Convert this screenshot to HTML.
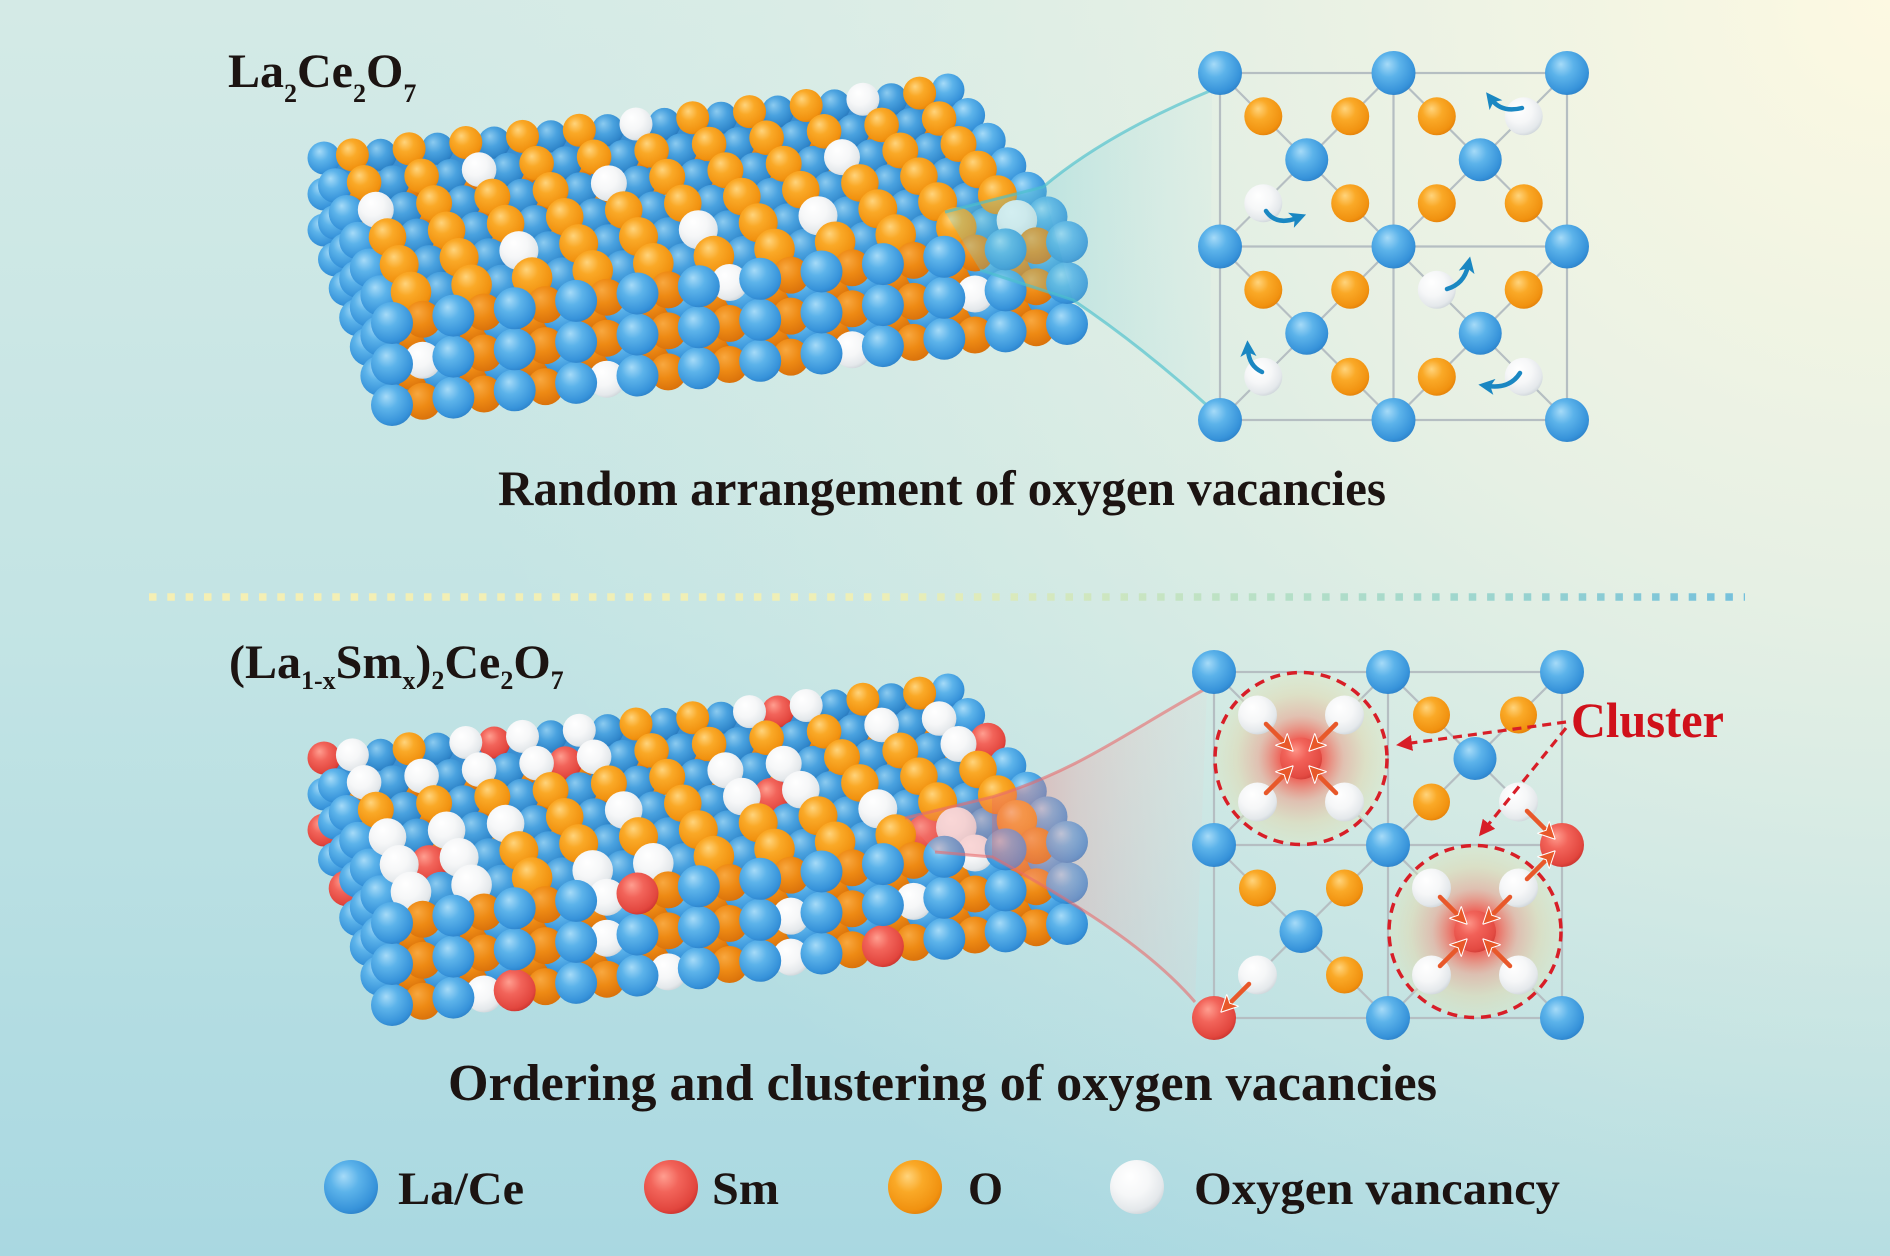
<!DOCTYPE html>
<html><head><meta charset="utf-8">
<style>
html,body{margin:0;padding:0;width:1890px;height:1256px;overflow:hidden;background:#c6e5e4;}
svg{display:block;}
text{font-family:"Liberation Serif","Times New Roman",serif;font-weight:bold;}
</style></head>
<body>
<svg id="root" width="1890" height="1256" viewBox="0 0 1890 1256" xmlns="http://www.w3.org/2000/svg">
<defs>
 <linearGradient id="bg" x1="0" y1="0" x2="0" y2="1256" gradientUnits="userSpaceOnUse">
  <stop offset="0" stop-color="#d4eae6"/>
  <stop offset="0.5" stop-color="#c3e4e4"/>
  <stop offset="1" stop-color="#a9d8e1"/>
 </linearGradient>
 <radialGradient id="bg2" cx="1890" cy="0" r="1500" gradientUnits="userSpaceOnUse">
  <stop offset="0" stop-color="#fdf9e2" stop-opacity="1"/>
  <stop offset="0.4" stop-color="#ecf2e4" stop-opacity="0.85"/>
  <stop offset="1" stop-color="#dceee6" stop-opacity="0"/>
 </radialGradient>
 <radialGradient id="gB" cx="0.42" cy="0.38" r="0.66" fx="0.36" fy="0.3">
  <stop offset="0" stop-color="#a6dbf8"/>
  <stop offset="0.4" stop-color="#5cb3ea"/>
  <stop offset="0.85" stop-color="#3793da"/>
  <stop offset="1" stop-color="#2d81c8"/>
 </radialGradient>
 <radialGradient id="gBd" cx="0.42" cy="0.38" r="0.66" fx="0.36" fy="0.3">
  <stop offset="0" stop-color="#8ccbf0"/>
  <stop offset="0.45" stop-color="#4aa2df"/>
  <stop offset="0.85" stop-color="#3087cb"/>
  <stop offset="1" stop-color="#2876ba"/>
 </radialGradient>
 <radialGradient id="gO" cx="0.42" cy="0.38" r="0.66" fx="0.36" fy="0.3">
  <stop offset="0" stop-color="#ffd47c"/>
  <stop offset="0.4" stop-color="#faa927"/>
  <stop offset="0.85" stop-color="#f19210"/>
  <stop offset="1" stop-color="#e27f0a"/>
 </radialGradient>
 <radialGradient id="gOd" cx="0.42" cy="0.38" r="0.66" fx="0.36" fy="0.3">
  <stop offset="0" stop-color="#f8a840"/>
  <stop offset="0.5" stop-color="#ee8a14"/>
  <stop offset="1" stop-color="#d8700a"/>
 </radialGradient>
 <radialGradient id="gW" cx="0.42" cy="0.38" r="0.66" fx="0.36" fy="0.3">
  <stop offset="0" stop-color="#ffffff"/>
  <stop offset="0.5" stop-color="#f6f7f8"/>
  <stop offset="0.85" stop-color="#e4e8eb"/>
  <stop offset="1" stop-color="#ccd3d8"/>
 </radialGradient>
 <radialGradient id="gR" cx="0.42" cy="0.38" r="0.66" fx="0.36" fy="0.3">
  <stop offset="0" stop-color="#ff9e90"/>
  <stop offset="0.4" stop-color="#f2645a"/>
  <stop offset="0.85" stop-color="#e2463e"/>
  <stop offset="1" stop-color="#c9332e"/>
 </radialGradient>
 <radialGradient id="glow" cx="0.5" cy="0.5" r="0.5">
  <stop offset="0" stop-color="#f03a3a" stop-opacity="0.95"/>
  <stop offset="0.25" stop-color="#f25448" stop-opacity="0.85"/>
  <stop offset="0.5" stop-color="#eca088" stop-opacity="0.55"/>
  <stop offset="0.75" stop-color="#e4d6a8" stop-opacity="0.5"/>
  <stop offset="1" stop-color="#e0e6b8" stop-opacity="0.35"/>
 </radialGradient>
 <linearGradient id="sep" x1="149" y1="0" x2="1745" y2="0" gradientUnits="userSpaceOnUse">
  <stop offset="0" stop-color="#f5efb4"/>
  <stop offset="0.45" stop-color="#eeefb7"/>
  <stop offset="0.7" stop-color="#b7e0c6"/>
  <stop offset="0.85" stop-color="#9ad4cf"/>
  <stop offset="1" stop-color="#74c0dc"/>
 </linearGradient>
 <linearGradient id="beamT" x1="945" y1="0" x2="1215" y2="0" gradientUnits="userSpaceOnUse">
  <stop offset="0" stop-color="#4fc0cc" stop-opacity="0.5"/>
  <stop offset="0.4" stop-color="#7ccfd6" stop-opacity="0.3"/>
  <stop offset="1" stop-color="#a8dfe2" stop-opacity="0.08"/>
 </linearGradient>
 <linearGradient id="beamB" x1="990" y1="0" x2="1210" y2="0" gradientUnits="userSpaceOnUse">
  <stop offset="0" stop-color="#ec6a6a" stop-opacity="0.5"/>
  <stop offset="0.4" stop-color="#f09a9a" stop-opacity="0.3"/>
  <stop offset="1" stop-color="#f4c0c0" stop-opacity="0.08"/>
 </linearGradient>
 <marker id="mb" viewBox="0 0 10 10" refX="4" refY="5" markerWidth="3.6" markerHeight="3.6" orient="auto">
  <path d="M0,0 L10,5 L0,10 L2.5,5 z" fill="#1a87c2"/>
 </marker>
 <marker id="mr" viewBox="0 0 10 10" refX="4" refY="5" markerWidth="3.8" markerHeight="3.8" orient="auto">
  <path d="M0,0 L10,5 L0,10 L2.5,5 z" fill="#e8582a" stroke="#ffffff" stroke-width="0.6"/>
 </marker>
 <marker id="md" viewBox="0 0 10 10" refX="5" refY="5" markerWidth="5" markerHeight="5" orient="auto">
  <path d="M0,0 L10,5 L0,10 z" fill="#d81e27"/>
 </marker>
</defs>

<!-- background -->
<rect x="0" y="0" width="1890" height="1256" fill="url(#bg)"/>
<rect x="0" y="0" width="1890" height="1256" fill="url(#bg2)"/>

<!-- titles -->
<text x="228" y="87" font-size="48" fill="#1c1412">La<tspan font-size="26" dy="15">2</tspan><tspan dy="-15">Ce</tspan><tspan font-size="26" dy="15">2</tspan><tspan dy="-15">O</tspan><tspan font-size="26" dy="15">7</tspan></text>

<text x="229" y="678" font-size="48" fill="#1c1412">(La<tspan font-size="26" dy="11">1-x</tspan><tspan dy="-11">Sm</tspan><tspan font-size="26" dy="11">x</tspan><tspan dy="-11">)</tspan><tspan font-size="26" dy="11">2</tspan><tspan dy="-11">Ce</tspan><tspan font-size="26" dy="11">2</tspan><tspan dy="-11">O</tspan><tspan font-size="26" dy="11">7</tspan></text>

<!-- slab fallbacks -->
<polygon points="324,158 948,90 1067,242 1067,328 392,407 324,236" fill="#3a8fd2"/>
<polygon points="324,758 948,690 1067,842 1067,928 392,1007 324,836" fill="#3a8fd2"/>
<g id="s1"></g>
<g id="s2"></g>

<!-- top beam -->
<polygon points="945,212 1043,187 1073,300 980,270" fill="#6ccbd2" fill-opacity="0.3"/>
<path d="M1043,187 Q1106,134 1212,90 L1210,408 Q1140,345 1073,300 Z" fill="url(#beamT)"/>
<path d="M945,212 L1043,187 Q1106,134 1212,90" fill="none" stroke="#4cc0cc" stroke-width="3" stroke-opacity="0.65"/>
<path d="M980,270 L1073,300 Q1140,345 1210,408" fill="none" stroke="#4cc0cc" stroke-width="3" stroke-opacity="0.65"/>

<!-- bottom beam -->
<polygon points="905,818 992,797 992,857 935,852" fill="#ef7b7b" fill-opacity="0.3"/>
<path d="M992,797 C1080,770 1130,730 1207,688 L1195,1002 C1150,950 1080,905 992,857 Z" fill="url(#beamB)"/>
<path d="M905,818 L992,797 C1080,770 1130,730 1207,688" fill="none" stroke="#e86a6c" stroke-width="3" stroke-opacity="0.6"/>
<path d="M935,852 L992,857 C1080,905 1150,950 1195,1002" fill="none" stroke="#e86a6c" stroke-width="3" stroke-opacity="0.6"/>

<!-- TOP LATTICE -->
<g stroke="#b5bec2" stroke-width="2.2" fill="none">
 <rect x="1220" y="73" width="347" height="347"/>
 <line x1="1393.5" y1="73" x2="1393.5" y2="420"/>
 <line x1="1220" y1="246.5" x2="1567" y2="246.5"/>
 <line x1="1220" y1="73" x2="1393.5" y2="246.5"/>
 <line x1="1393.5" y1="73" x2="1220" y2="246.5"/>
 <line x1="1393.5" y1="73" x2="1567" y2="246.5"/>
 <line x1="1567" y1="73" x2="1393.5" y2="246.5"/>
 <line x1="1220" y1="246.5" x2="1393.5" y2="420"/>
 <line x1="1393.5" y1="246.5" x2="1220" y2="420"/>
 <line x1="1393.5" y1="246.5" x2="1567" y2="420"/>
 <line x1="1567" y1="246.5" x2="1393.5" y2="420"/>
</g>
<g>
 <circle cx="1220" cy="73" r="22" fill="url(#gB)"/>
 <circle cx="1393.5" cy="73" r="22" fill="url(#gB)"/>
 <circle cx="1567" cy="73" r="22" fill="url(#gB)"/>
 <circle cx="1220" cy="246.5" r="22" fill="url(#gB)"/>
 <circle cx="1393.5" cy="246.5" r="22" fill="url(#gB)"/>
 <circle cx="1567" cy="246.5" r="22" fill="url(#gB)"/>
 <circle cx="1220" cy="420" r="22" fill="url(#gB)"/>
 <circle cx="1393.5" cy="420" r="22" fill="url(#gB)"/>
 <circle cx="1567" cy="420" r="22" fill="url(#gB)"/>
 <circle cx="1306.75" cy="159.75" r="21.5" fill="url(#gB)"/>
 <circle cx="1480.25" cy="159.75" r="21.5" fill="url(#gB)"/>
 <circle cx="1306.75" cy="333.25" r="21.5" fill="url(#gB)"/>
 <circle cx="1480.25" cy="333.25" r="21.5" fill="url(#gB)"/>
 <circle cx="1263.3" cy="116.3" r="19" fill="url(#gO)"/>
 <circle cx="1350.2" cy="116.3" r="19" fill="url(#gO)"/>
 <circle cx="1263.3" cy="203.2" r="19" fill="url(#gW)"/>
 <circle cx="1350.2" cy="203.2" r="19" fill="url(#gO)"/>
 <circle cx="1436.8" cy="116.3" r="19" fill="url(#gO)"/>
 <circle cx="1523.7" cy="116.3" r="19" fill="url(#gW)"/>
 <circle cx="1436.8" cy="203.2" r="19" fill="url(#gO)"/>
 <circle cx="1523.7" cy="203.2" r="19" fill="url(#gO)"/>
 <circle cx="1263.3" cy="289.8" r="19" fill="url(#gO)"/>
 <circle cx="1350.2" cy="289.8" r="19" fill="url(#gO)"/>
 <circle cx="1263.3" cy="376.7" r="19" fill="url(#gW)"/>
 <circle cx="1350.2" cy="376.7" r="19" fill="url(#gO)"/>
 <circle cx="1436.8" cy="289.8" r="19" fill="url(#gW)"/>
 <circle cx="1523.7" cy="289.8" r="19" fill="url(#gO)"/>
 <circle cx="1436.8" cy="376.7" r="19" fill="url(#gO)"/>
 <circle cx="1523.7" cy="376.7" r="19" fill="url(#gW)"/>
</g>
<g fill="none" stroke="#1a87c2" stroke-width="4.5" stroke-linecap="round">
 <path d="M1266,211 Q1276,226 1297,218" marker-end="url(#mb)"/>
 <path d="M1522,108 Q1502,113 1492,100" marker-end="url(#mb)"/>
 <path d="M1447,289 Q1464,284 1468,266" marker-end="url(#mb)"/>
 <path d="M1520,373 Q1510,389 1488,386" marker-end="url(#mb)"/>
 <path d="M1262,372 Q1249,366 1248,350" marker-end="url(#mb)"/>
</g>

<text x="498" y="505" font-size="50" fill="#1c1412" textLength="888" lengthAdjust="spacingAndGlyphs">Random arrangement of oxygen vacancies</text>

<line x1="149" y1="597" x2="1745" y2="597" stroke="url(#sep)" stroke-width="7.5" stroke-dasharray="7.5 10.83"/>

<!-- BOTTOM LATTICE -->
<g stroke="#b5bec2" stroke-width="2.2" fill="none">
 <rect x="1214" y="672" width="348" height="346"/>
 <line x1="1388" y1="672" x2="1388" y2="1018"/>
 <line x1="1214" y1="845" x2="1562" y2="845"/>
 <line x1="1214" y1="672" x2="1388" y2="845"/>
 <line x1="1388" y1="672" x2="1214" y2="845"/>
 <line x1="1388" y1="672" x2="1562" y2="845"/>
 <line x1="1562" y1="672" x2="1388" y2="845"/>
 <line x1="1214" y1="845" x2="1388" y2="1018"/>
 <line x1="1388" y1="845" x2="1214" y2="1018"/>
 <line x1="1388" y1="845" x2="1562" y2="1018"/>
 <line x1="1562" y1="845" x2="1388" y2="1018"/>
</g>
<circle cx="1301" cy="758.5" r="86" fill="url(#glow)"/>
<circle cx="1475" cy="931.5" r="86" fill="url(#glow)"/>
<g>
 <circle cx="1214" cy="672" r="22" fill="url(#gB)"/>
 <circle cx="1388" cy="672" r="22" fill="url(#gB)"/>
 <circle cx="1562" cy="672" r="22" fill="url(#gB)"/>
 <circle cx="1214" cy="845" r="22" fill="url(#gB)"/>
 <circle cx="1388" cy="845" r="22" fill="url(#gB)"/>
 <circle cx="1562" cy="845" r="22" fill="url(#gR)"/>
 <circle cx="1214" cy="1018" r="22" fill="url(#gR)"/>
 <circle cx="1388" cy="1018" r="22" fill="url(#gB)"/>
 <circle cx="1562" cy="1018" r="22" fill="url(#gB)"/>
 <circle cx="1301" cy="758.5" r="21" fill="url(#gR)" fill-opacity="0.85"/>
 <circle cx="1475" cy="758.5" r="21.5" fill="url(#gB)"/>
 <circle cx="1301" cy="931.5" r="21.5" fill="url(#gB)"/>
 <circle cx="1475" cy="931.5" r="21" fill="url(#gR)" fill-opacity="0.85"/>
 <circle cx="1257.5" cy="715" r="19.5" fill="url(#gW)"/>
 <circle cx="1344.5" cy="715" r="19.5" fill="url(#gW)"/>
 <circle cx="1257.5" cy="802" r="19.5" fill="url(#gW)"/>
 <circle cx="1344.5" cy="802" r="19.5" fill="url(#gW)"/>
 <circle cx="1431.5" cy="715" r="18.5" fill="url(#gO)"/>
 <circle cx="1518.5" cy="715" r="18.5" fill="url(#gO)"/>
 <circle cx="1431.5" cy="802" r="18.5" fill="url(#gO)"/>
 <circle cx="1518.5" cy="802" r="19.5" fill="url(#gW)"/>
 <circle cx="1257.5" cy="888" r="18.5" fill="url(#gO)"/>
 <circle cx="1344.5" cy="888" r="18.5" fill="url(#gO)"/>
 <circle cx="1257.5" cy="975" r="19.5" fill="url(#gW)"/>
 <circle cx="1344.5" cy="975" r="18.5" fill="url(#gO)"/>
 <circle cx="1431.5" cy="888" r="19.5" fill="url(#gW)"/>
 <circle cx="1518.5" cy="888" r="19.5" fill="url(#gW)"/>
 <circle cx="1431.5" cy="975" r="19.5" fill="url(#gW)"/>
 <circle cx="1518.5" cy="975" r="19.5" fill="url(#gW)"/>
</g>
<g stroke="#e8582a" stroke-width="4.5" stroke-linecap="round" fill="none">
 <line x1="1266" y1="724" x2="1286" y2="744" marker-end="url(#mr)"/>
 <line x1="1336" y1="724" x2="1316" y2="744" marker-end="url(#mr)"/>
 <line x1="1266" y1="793" x2="1286" y2="773" marker-end="url(#mr)"/>
 <line x1="1336" y1="793" x2="1316" y2="773" marker-end="url(#mr)"/>
 <line x1="1440" y1="897" x2="1460" y2="917" marker-end="url(#mr)"/>
 <line x1="1510" y1="897" x2="1490" y2="917" marker-end="url(#mr)"/>
 <line x1="1440" y1="966" x2="1460" y2="946" marker-end="url(#mr)"/>
 <line x1="1510" y1="966" x2="1490" y2="946" marker-end="url(#mr)"/>
 <line x1="1527" y1="811" x2="1548" y2="832" marker-end="url(#mr)"/>
 <line x1="1249" y1="984" x2="1228" y2="1005" marker-end="url(#mr)"/>
 <line x1="1527" y1="879" x2="1548" y2="858" marker-end="url(#mr)"/>
</g>
<circle cx="1301" cy="758.5" r="86" fill="none" stroke="#d81e27" stroke-width="3.5" stroke-dasharray="10 7"/>
<circle cx="1475" cy="931.5" r="86" fill="none" stroke="#d81e27" stroke-width="3.5" stroke-dasharray="10 7"/>
<line x1="1566" y1="722" x2="1404" y2="744" stroke="#d81e27" stroke-width="3.2" stroke-dasharray="9 6" marker-end="url(#md)"/>
<line x1="1566" y1="728" x2="1484" y2="830" stroke="#d81e27" stroke-width="3.2" stroke-dasharray="9 6" marker-end="url(#md)"/>
<text x="1571" y="737" font-size="50" fill="#d0111b" textLength="153" lengthAdjust="spacingAndGlyphs">Cluster</text>

<text x="448" y="1100" font-size="52" fill="#1c1412" textLength="989" lengthAdjust="spacingAndGlyphs">Ordering and clustering of oxygen vacancies</text>

<circle cx="351" cy="1187" r="27" fill="url(#gB)"/>
<circle cx="671" cy="1187" r="27" fill="url(#gR)"/>
<circle cx="915" cy="1187" r="27" fill="url(#gO)"/>
<circle cx="1137" cy="1187" r="27" fill="url(#gW)"/>
<text x="398" y="1204" font-size="47" fill="#1c1412" textLength="126" lengthAdjust="spacingAndGlyphs">La/Ce</text>
<text x="712" y="1204" font-size="47" fill="#1c1412" textLength="67" lengthAdjust="spacingAndGlyphs">Sm</text>
<text x="968" y="1204" font-size="47" fill="#1c1412" textLength="35" lengthAdjust="spacingAndGlyphs">O</text>
<text x="1194" y="1204" font-size="47" fill="#1c1412" textLength="366" lengthAdjust="spacingAndGlyphs">Oxygen vancancy</text>
</svg>

<script>
(function(){
var NS='http://www.w3.org/2000/svg';
function slab(id,dy,whites,reds){
 var g=document.getElementById(id);
 if(!g)return;
 var A=[324,158],B=[948,90],D=[392,323],C=[1067,242];
 var W={},R={};
 whites.forEach(function(k){W[k]=1;});
 reds.forEach(function(k){R[k]=1;});
 function P(c,r,l){
  var u=c/22,v=r/6;
  var tx=A[0]+u*(B[0]-A[0]),ty=A[1]+u*(B[1]-A[1]);
  var bx=D[0]+u*(C[0]-D[0]),by=D[1]+u*(C[1]-D[1]);
  return [tx+v*(bx-tx), ty+v*(by-ty)+l*(36+5*v)+dy, 16.5+4.5*v];
 }
 function ball(c,r,l,dark,front){
  var k=c+','+r+','+l,t;
  var isEdge=(c===0||c===22);
  var odd=(c%2===1);
  if(R[k])t='url(#gR)';
  else if(W[k])t='url(#gW)';
  else if(!odd)t=(dark&&!isEdge)?'url(#gBd)':'url(#gB)';
  else t=front?'url(#gOd)':'url(#gO)';
  var p=P(c,r,l),x=p[0],y=p[1],rad=p[2];
  if(dark&&!odd&&!isEdge){y+=3;rad*=0.97;}
  if(front&&odd){rad*=0.88;}
  var e=document.createElementNS(NS,'circle');
  e.setAttribute('cx',x.toFixed(1));
  e.setAttribute('cy',y.toFixed(1));
  e.setAttribute('r',rad.toFixed(1));
  e.setAttribute('fill',t);
  g.appendChild(e);
 }
 var l,r,c;
 for(l=2;l>=1;l--){
  for(r=0;r<=6;r++){
   for(c=1;c<=21;c+=2)ball(c,r,l,false,true);
   for(c=0;c<=22;c+=2)ball(c,r,l);
  }
 }
 for(r=0;r<=5;r++)for(c=0;c<=22;c+=2)ball(c,r,0,true);
 for(r=0;r<=5;r++)for(c=1;c<=21;c+=2)ball(c,r,0);
 for(c=1;c<=21;c+=2)ball(c,6,0,false,true);
 for(c=0;c<=22;c+=2)ball(c,6,0);
}
slab('s1',0,
 ["11,0,0","5,1,0","9,2,0","1,2,0","11,4,0","5,4,0","19,0,0","17,2,0","15,4,0","21,5,0",
  "1,6,1","7,6,2","11,6,0","15,6,2","19,6,1"],
 []);
slab('s2',600,
 ["1,0,0","1,1,0","5,0,0","7,0,0","9,0,0","5,1,0","7,1,0","9,1,0","15,0,0","17,0,0",
  "21,1,0","21,2,0","13,2,0","15,2,0","13,3,0","15,3,0","9,3,0","17,4,0","19,5,0",
  "1,3,0","3,3,0","1,4,0","3,4,0","1,5,0","3,5,0","5,3,0","7,5,0","9,5,0","3,1,0","19,1,0",
  "7,6,0","7,6,1","13,6,1","17,6,1","19,6,0","3,6,2","9,6,2","13,6,2"],
 ["0,0,0","6,0,0","8,1,0","16,0,0","22,2,0","14,3,0","2,4,0","18,5,0",
  "8,6,0","16,6,2","4,6,2","0,0,2","0,2,2"]);
})();
</script>
</body></html>
